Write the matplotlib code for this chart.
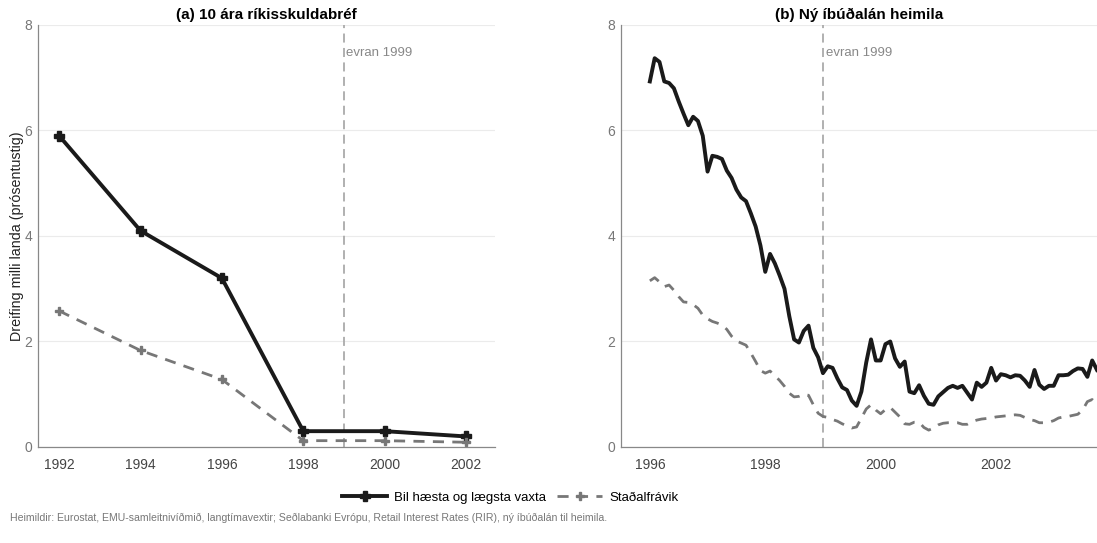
import matplotlib
matplotlib.use("Agg")
import matplotlib.pyplot as plt
import numpy as np

plt.rcParams["font.family"] = ["Liberation Sans", "DejaVu Sans"]

# (a) 10 ára ríkisskuldabréf, annual
years_a = [1992, 1994, 1996, 1998, 2000, 2002]
range_a = [5.9, 4.1, 3.2, 0.3, 0.3, 0.2]
std_a = [2.58, 1.83, 1.28, 0.12, 0.12, 0.09]

# (b) Ný íbúðalán heimila, monthly from Jan 1996
range_b = [6.93, 7.37, 7.30, 6.93, 6.90, 6.80, 6.55, 6.32, 6.10, 6.26, 6.18, 5.90,
           5.22, 5.52, 5.50, 5.46, 5.24, 5.10, 4.88, 4.73, 4.66, 4.43, 4.18, 3.82,
           3.32, 3.66, 3.48, 3.25, 3.00, 2.48, 2.04, 1.98, 2.20, 2.30, 1.88, 1.70,
           1.40, 1.53, 1.50, 1.30, 1.13, 1.08, 0.88, 0.78, 1.05, 1.60, 2.04, 1.64,
           1.64, 1.95, 2.00, 1.68, 1.52, 1.62, 1.05, 1.02, 1.17, 0.97, 0.82, 0.80,
           0.96, 1.04, 1.12, 1.16, 1.12, 1.16, 1.03, 0.90, 1.22, 1.14, 1.22, 1.50,
           1.26, 1.38, 1.36, 1.32, 1.36, 1.35, 1.26, 1.14, 1.46, 1.18, 1.10, 1.16,
           1.16, 1.36, 1.36, 1.37, 1.44, 1.49, 1.48, 1.33, 1.64, 1.46]
std_b = [3.15, 3.21, 3.13, 3.04, 3.07, 2.97, 2.85, 2.75, 2.74, 2.70, 2.63, 2.50,
         2.43, 2.38, 2.35, 2.31, 2.23, 2.10, 2.01, 1.97, 1.93, 1.78, 1.62, 1.45,
         1.40, 1.44, 1.35, 1.26, 1.15, 1.02, 0.95, 0.96, 1.00, 0.98, 0.80, 0.64,
         0.58, 0.56, 0.52, 0.49, 0.44, 0.40, 0.36, 0.38, 0.55, 0.72, 0.80, 0.70,
         0.63, 0.71, 0.75, 0.66, 0.57, 0.44, 0.43, 0.47, 0.47, 0.37, 0.32, 0.36,
         0.42, 0.45, 0.46, 0.46, 0.46, 0.43, 0.43, 0.48, 0.51, 0.53, 0.54, 0.55,
         0.57, 0.58, 0.59, 0.60, 0.61, 0.60, 0.56, 0.52, 0.50, 0.46, 0.46, 0.47,
         0.50, 0.55, 0.57, 0.58, 0.60, 0.62, 0.70, 0.86, 0.90, 0.80]
months_b = 1996 + np.arange(len(range_b)) / 12.0

euro_year = 1999
black = "#1a1a1a"
grey = "#777777"

fig = plt.figure(figsize=(10.97, 5.43), dpi=100)
ax1 = fig.add_axes([0.0346, 0.1768, 0.4166, 0.7772])
ax2 = fig.add_axes([0.5661, 0.1768, 0.4339, 0.7772])

ax1.plot(years_a, range_a, color=black, lw=2.8, marker="P", ms=7,
         label="Bil hæsta og lægsta vaxta")
ax1.plot(years_a, std_a, color=grey, lw=2, ls=(0, (4, 3)), marker="P", ms=6,
         label="Staðalfrávik")
ax1.set_xlim(1991.48, 2002.71)
ax1.set_xticks([1992, 1994, 1996, 1998, 2000, 2002])
ax1.set_title("(a) 10 ára ríkisskuldabréf", fontsize=11, fontweight="bold", pad=4)
ax1.set_ylabel("Dreifing milli landa (prósentustig)", fontsize=10.3, color="#222222")
ax1.yaxis.set_label_coords(-0.031, 0.5)

ax2.plot(months_b, range_b, color=black, lw=2.8)
ax2.plot(months_b, std_b, color=grey, lw=2, ls=(0, (4, 3)))
ax2.set_xlim(1995.5, months_b[-1])
ax2.set_xticks([1996, 1998, 2000, 2002])
ax2.set_title("(b) Ný íbúðalán heimila", fontsize=11, fontweight="bold", pad=4)

for ax in (ax1, ax2):
    ax.set_ylim(0, 8)
    ax.set_yticks([0, 2, 4, 6, 8])
    ax.grid(axis="y", color="#ebebeb", lw=0.8)
    ax.set_axisbelow(True)
    for s in ("top", "right"):
        ax.spines[s].set_visible(False)
    for s in ("left", "bottom"):
        ax.spines[s].set_color("#888888")
        ax.spines[s].set_linewidth(0.9)
    ax.tick_params(axis="y", length=0, pad=4, labelsize=10, labelcolor="#777777")
    ax.tick_params(axis="x", length=0, pad=8, labelsize=10, labelcolor="#444444")
    ax.axvline(euro_year, color="#aaaaaa", lw=1.3, ls=(0, (5, 3)), zorder=1)
    ax.text(euro_year + 0.06, 7.47, "evran 1999", color="#888888", fontsize=9.5,
            va="center", ha="left")

handles, labels = ax1.get_legend_handles_labels()
fig.legend(handles, labels, loc="center", bbox_to_anchor=(0.465, 0.083), ncol=2,
           frameon=False, fontsize=9.5, handlelength=3.4, handletextpad=0.5,
           columnspacing=0.9)

fig.text(0.009, 0.046, "Heimildir: Eurostat, EMU-samleitnivíðmið, langtímavextir; Seðlabanki Evrópu, "
         "Retail Interest Rates (RIR), ný íbúðalán til heimila.",
         fontsize=7.6, color="#777777", ha="left", va="center")

fig.savefig("out.png", dpi=100)
